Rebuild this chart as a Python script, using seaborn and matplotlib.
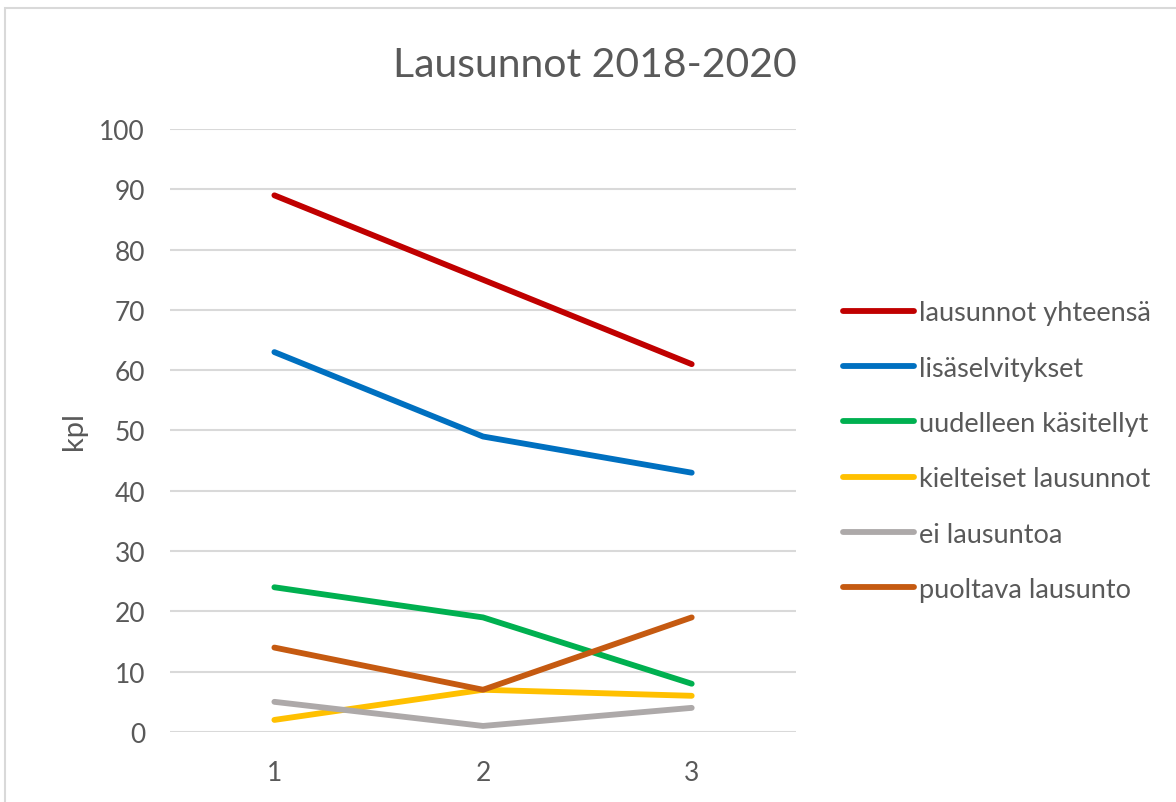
import matplotlib.pyplot as plt
import seaborn as sns
import pandas as pd

# data
x_vals = [1, 2, 3]
series_names = ["lausunnot yhteensä", "lisäselvitykset", "uudelleen käsitellyt",
                "kielteiset lausunnot", "ei lausuntoa", "puoltava lausunto"]
yhteensa = [89, 75, 61]
lisaselvitykset = [63, 49, 43]
uudelleen = [24, 19, 8]
kielteiset = [2, 7, 6]
ei_lausuntoa = [5, 1, 4]
puoltava = [14, 7, 19]
colors = ["#C00000", "#0070C0", "#00B050", "#FFC000", "#ADA9A9", "#C55A11"]

all_values = [yhteensa, lisaselvitykset, uudelleen, kielteiset, ei_lausuntoa, puoltava]
rows = []
for name, vals in zip(series_names, all_values):
    for x, v in zip(x_vals, vals):
        rows.append({"x": x, "kpl": v, "sarja": name})
df = pd.DataFrame(rows)

sns.set_style("white")
plt.rcParams['font.family'] = ['Lato', 'DejaVu Sans']
text_col = "#595959"

fig = plt.figure(figsize=(11.76, 8.03), dpi=100)
ax = fig.add_axes([0.1446, 0.0872, 0.5323, 0.7509])

sns.lineplot(data=df, x="x", y="kpl", hue="sarja", hue_order=series_names,
             palette=colors, linewidth=4.2, ax=ax, legend=True)
for line in ax.get_lines():
    line.set_solid_capstyle("round")
    line.set_solid_joinstyle("round")

ax.set_xlim(0.5, 3.5)
ax.set_ylim(0, 100)
ax.set_xticks(x_vals)
ax.set_yticks(range(0, 101, 10))
ax.yaxis.grid(True, color="#D9D9D9", linewidth=1.5)
ax.set_axisbelow(True)
for s in ax.spines.values():
    s.set_visible(False)
ax.tick_params(axis="both", length=0, labelsize=19, colors=text_col)
ax.tick_params(axis="y", pad=18)
ax.tick_params(axis="x", pad=20)
ax.set_xlabel("")
ax.set_ylabel("kpl", fontsize=21, color=text_col)
ax.yaxis.set_label_coords(-0.133, 0.5)
fig.text(0.506, 0.918, "Lausunnot 2018-2020", ha="center", va="center",
         fontsize=29.5, color=text_col)

handles, labels = ax.get_legend_handles_labels()
for h in handles:
    h.set_linewidth(4.2)
    h.set_solid_capstyle("round")
ax.legend(handles, labels, loc="center left", bbox_to_anchor=(0.717, 0.437),
          bbox_transform=fig.transFigure, frameon=False, fontsize=19.5,
          labelcolor=text_col, handlelength=2.6, handletextpad=0.2,
          labelspacing=1.12, borderaxespad=0, borderpad=0)

# light frame around the chart area
fig.patches.append(plt.Rectangle((0.004, -0.01), 1.0, 1.0 - 0.001, transform=fig.transFigure,
                                 fill=False, edgecolor="#D9D9D9", linewidth=1.5))

fig.savefig("out.png", dpi=100)
